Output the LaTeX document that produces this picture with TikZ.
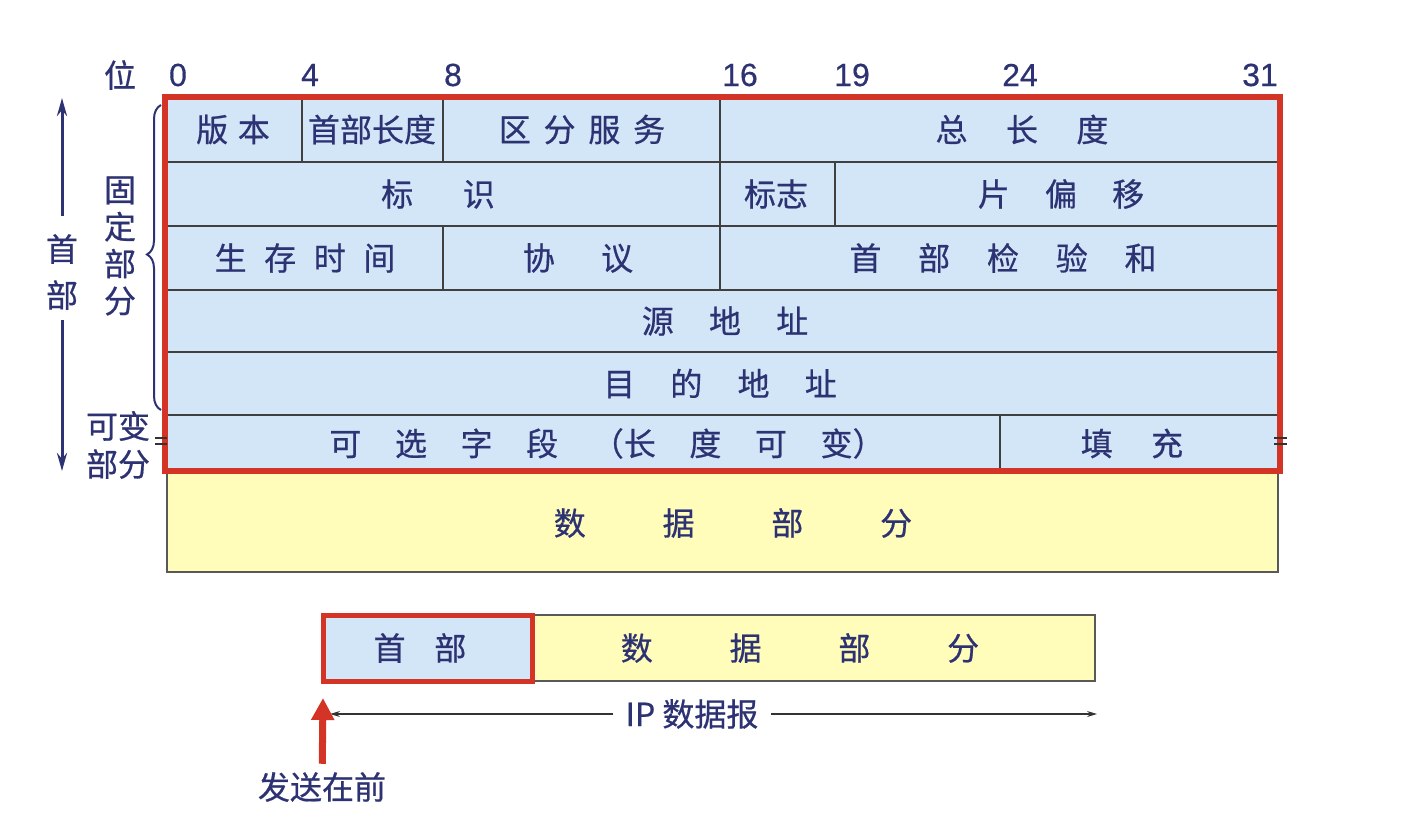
\documentclass[tikz,border=0pt]{standalone}
\usepackage{fontspec}
\setmainfont{Noto Sans CJK SC}[FakeBold=0.6]
\newfontfamily\numfont{Liberation Sans}[FakeBold=0.4]
\usetikzlibrary{arrows.meta,decorations.pathreplacing}
\definecolor{hdrblue}{RGB}{210,230,247}
\definecolor{datayellow}{RGB}{255,253,185}
\definecolor{boxred}{RGB}{212,52,38}
\definecolor{inknavy}{RGB}{45,50,115}
\newcommand{\gp}[1]{\hspace{#1em}}

\begin{document}
\begin{tikzpicture}[x=0.5pt,y=-0.5pt,
    field/.style = {draw=black!75, line width=0.6pt, fill=hdrblue},
    datafield/.style = {draw=black!65, line width=0.7pt, fill=datayellow},
    ftext/.style = {text=inknavy, font=\fontsize{16}{19}\selectfont, inner sep=0pt},
    bitnum/.style = {text=inknavy, font=\numfont\fontsize{16}{19}\selectfont, inner sep=0pt},
    hdarrow/.style = {draw=inknavy, line width=1.5pt, -{Stealth[length=9pt,width=5pt]}},
    iparrow/.style = {draw=black!80, line width=0.6pt, -{Stealth[length=5pt,width=3pt]}},
    sendarrow/.style = {draw=boxred, line width=3.5pt, -{Triangle[width=11pt,length=11pt]}}]

  \useasboundingbox[fill=white] (0,0) rectangle (1418,840);

  % header fields, row by row
  \foreach \xa/\ya/\xb/\yb/\tx/\nm/\txt in {
      167/97/302/162/233/ver/{版\gp{.3}本},
      302/97/443/162/372/hlen/{首部长度},
      443/97/720/162/582/ds/{区\gp{.4}分\gp{.4}服\gp{.4}务},
      720/97/1278/162/1022/tlen/{总\gp{1.2}长\gp{1.2}度},
      167/162/720/226/438/ident/{标\gp{1.55}识},
      720/162/835/226/776/flags/{标志},
      835/162/1278/226/1061/foff/{片\gp{1.1}偏\gp{1.1}移},
      167/226/443/290/305/ttl/{生\gp{.55}存\gp{.55}时\gp{.55}间},
      443/226/720/290/578/proto/{协\gp{1.45}议},
      720/226/1278/290/1003/csum/{首\gp{1.15}部\gp{1.15}检\gp{1.15}验\gp{1.15}和},
      167/290/1278/352/725/src/{源\gp{1.1}地\gp{1.1}址},
      167/352/1278/415/720/dst/{目\gp{1.1}的\gp{1.1}地\gp{1.1}址},
      167/415/1000/472/607/opt/{可\gp{1.05}选\gp{1.05}字\gp{1.05}段\gp{1.05}（长\gp{1.05}度\gp{1.05}可\gp{1.05}变）},
      1000/415/1278/472/1132/pad/{填\gp{1.2}充}}
  {
    \draw[field] (\xa,\ya) rectangle (\xb,\yb);
    \node[ftext] (\nm) at (\tx,{(\ya+\yb)/2}) {\txt};
  }

  % data part under the header
  \draw[datafield] (167,472) rectangle (1278,572);
  \node[ftext] (data) at (733,523) {数\gp{2.4}据\gp{2.4}部\gp{2.4}分};

  % red outline of the header
  \draw[boxred, line width=3pt] (165,97) rectangle (1280,471);

  % break marks of the variable part
  \draw[black!80, line width=0.6pt] (155,438) -- (167,438) (155,444) -- (167,444)
    (1274,438) -- (1287,438) (1274,444) -- (1287,444);

  % bit numbers
  \node[ftext] (wei) at (120,75) {位};
  \foreach \x/\b in {178/0, 310/4, 453/8, 740/16, 852/19, 1020/24, 1260/31}
    \node[bitnum] (bit\b) at (\x,75) {\b};

  % left side labels
  \coordinate (hdtop) at (62,98);
  \coordinate (hdbot) at (62,471);
  \node[ftext, align=center, font=\fontsize{16}{23}\selectfont] (hdlabel) at (62,272) {首\\部};
  \draw[hdarrow, shorten <=9pt] (hdlabel) -- (hdtop);
  \draw[hdarrow, shorten <=5pt] (hdlabel) -- (hdbot);

  \node[ftext, align=center, font=\fontsize{16}{18.5}\selectfont] (fixed) at (120,246) {固\\定\\部\\分};
  \node[ftext, align=center, font=\fontsize{16}{19}\selectfont] (varpart) at (118,445) {可变\\部分};
  \draw[inknavy, line width=1pt, decorate, decoration={brace, amplitude=7pt, aspect=0.51}]
    (161,410) -- (161,105);

  % datagram below
  \draw[field] (323,615) rectangle (532,681);
  \node[ftext] (smhdr) at (420,648) {首\gp{.9}部};
  \draw[datafield] (532,615) rectangle (1095,681);
  \node[ftext] (smdata) at (800,648) {数\gp{2.4}据\gp{2.4}部\gp{2.4}分};
  \draw[boxred, line width=2.5pt] (323,615) rectangle (532,681);

  \coordinate (ipL) at (330,714);
  \coordinate (ipR) at (1097,714);
  \node[ftext, fill=white, inner xsep=6pt] (iplabel) at (692,714) {IP 数据报};
  \draw[iparrow] (iplabel) -- (ipL);
  \draw[iparrow] (iplabel) -- (ipR);

  \coordinate (sendtip) at (323,698);
  \node[ftext] (sendfirst) at (322,787) {发送在前};
  \draw[sendarrow, shorten <=4pt] (sendfirst) -- (sendtip);
\end{tikzpicture}
\end{document}
